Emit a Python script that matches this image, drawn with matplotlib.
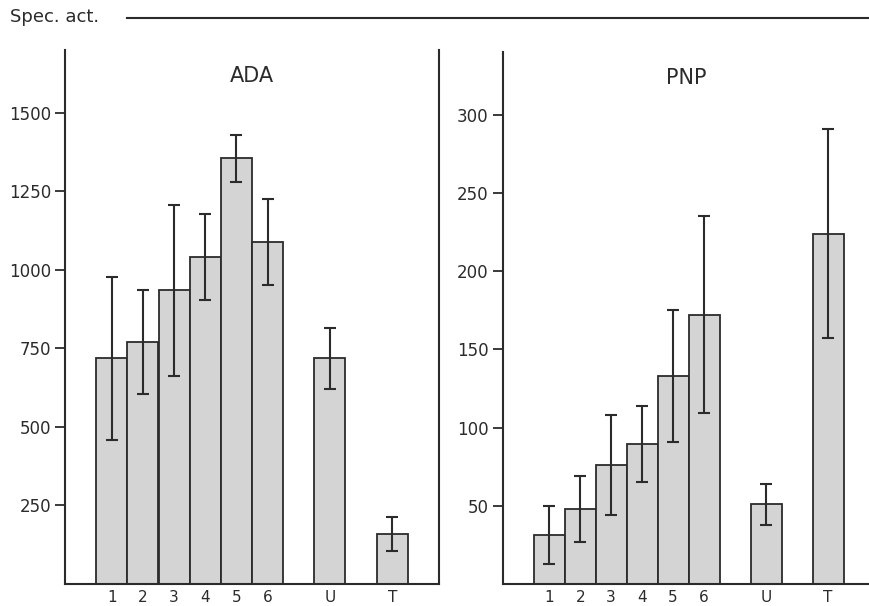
import numpy as np
import matplotlib.pyplot as plt
from matplotlib.lines import Line2D

# categories and values
groups = ['1', '2', '3', '4', '5', '6', 'U', 'T']
positions = [1, 2, 3, 4, 5, 6, 8, 10]

ada_mean = [718, 770, 935, 1040, 1355, 1088, 718, 158]
ada_err = [260, 165, 272, 137, 75, 137, 98, 54]

pnp_mean = [31.5, 48, 76, 89.5, 133, 172, 51, 224]
pnp_err = [18.5, 21, 32, 24.5, 42, 63, 13, 67]

ink = '#2b2b2b'
fill = '#d4d4d4'

plt.rcParams['font.family'] = 'DejaVu Sans'

fig = plt.figure(figsize=(8.7, 6.06), dpi=100)
ax1 = fig.add_axes([65 / 870, 22 / 606, 374 / 870, 534 / 606])
ax2 = fig.add_axes([502.7 / 870, 22 / 606, 367.3 / 870, 532 / 606])


def panel(ax, means, errs, ylim, yticks, title, xmax, right_spine):
    ax.bar(positions, means, width=1.0, color=fill, edgecolor=ink, linewidth=1.3)
    ax.errorbar(positions, means, yerr=errs, fmt='none', ecolor=ink,
                elinewidth=1.5, capsize=4, capthick=1.5)
    ax.set_xlim(-0.5, xmax)
    ax.set_ylim(*ylim)
    ax.set_xticks(positions)
    ax.set_xticklabels(groups, fontsize=11)
    ax.set_yticks(yticks)
    ax.set_yticklabels([str(t) for t in yticks], fontsize=12)
    ax.tick_params(axis='x', length=0, pad=4, colors=ink)
    ax.tick_params(axis='y', length=7, width=1.3, pad=3, colors=ink)
    ax.spines['top'].set_visible(False)
    ax.spines['right'].set_visible(right_spine)
    for s in ax.spines.values():
        s.set_linewidth(1.5)
        s.set_color(ink)
    ax.set_title(title, fontsize=15, color=ink, y=0.955, va='top')


panel(ax1, ada_mean, ada_err, (0, 1700), [250, 500, 750, 1000, 1250, 1500],
      'ADA', 11.5, True)
panel(ax2, pnp_mean, pnp_err, (0, 340), [50, 100, 150, 200, 250, 300],
      'PNP', 11.35, False)

fig.text(10 / 870, 1 - 17 / 606, 'Spec. act.', fontsize=13, color=ink,
         va='center', ha='left')
fig.add_artist(Line2D([127 / 870, 1.0], [1 - 18 / 606, 1 - 18 / 606],
                      transform=fig.transFigure, color=ink, linewidth=1.5))

fig.savefig('out.png', dpi=100)
